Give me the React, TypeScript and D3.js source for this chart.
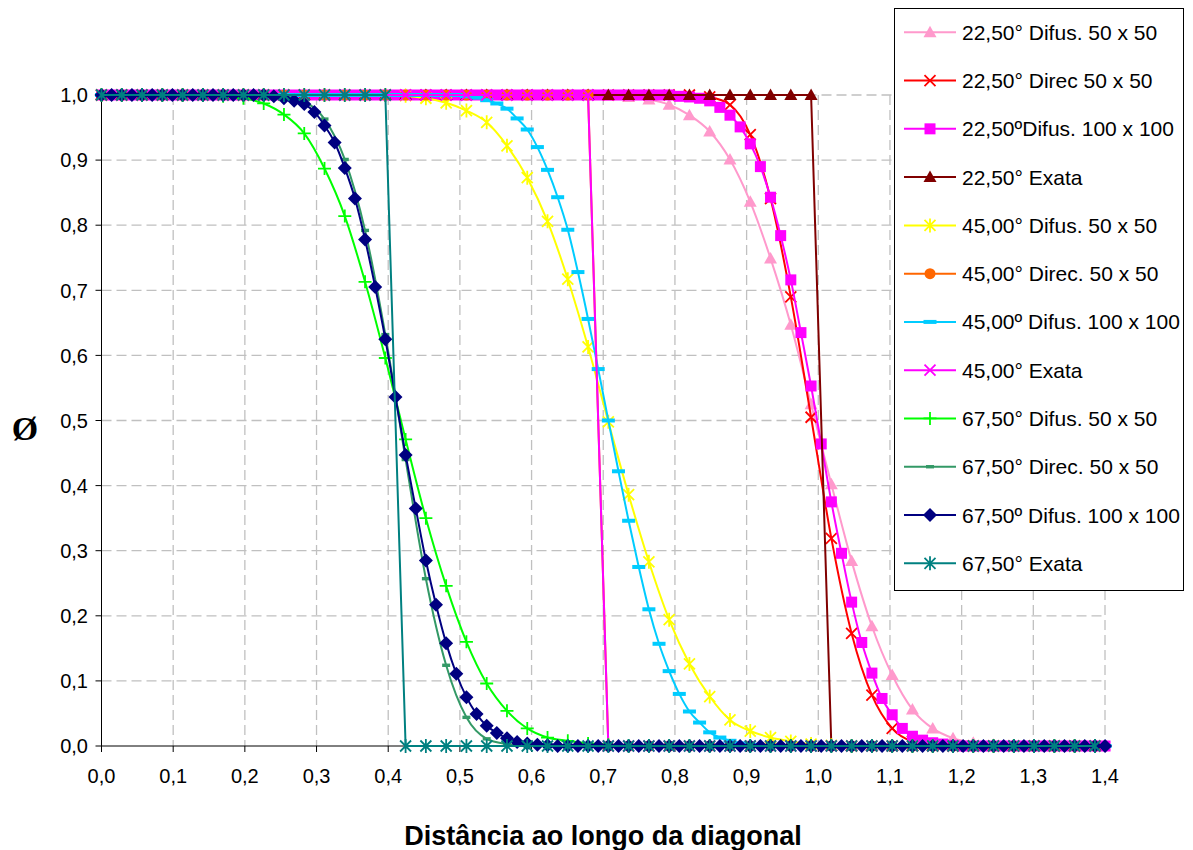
import React from 'react';
import * as d3 from 'd3';

// ---------- data ----------
const X_TICKS = [0, 0.1, 0.2, 0.3, 0.4, 0.5, 0.6, 0.7, 0.8, 0.9, 1.0, 1.1, 1.2, 1.3, 1.4];
const Y_TICKS = [0, 0.1, 0.2, 0.3, 0.4, 0.5, 0.6, 0.7, 0.8, 0.9, 1.0];
const X_TITLE = 'Distância ao longo da diagonal';
const Y_TITLE = 'Ø';

// grid spacing along the diagonal of the unit square
const STEP_50 = Math.SQRT2 / 50;
const STEP_100 = Math.SQRT2 / 100;

const LABELS = [
  '22,50° Difus. 50 x 50',
  '22,50° Direc 50 x 50',
  '22,50ºDifus. 100 x 100',
  '22,50° Exata',
  '45,00° Difus. 50 x 50',
  '45,00° Direc. 50 x 50',
  '45,00º Difus. 100 x 100',
  '45,00° Exata',
  '67,50° Difus. 50 x 50',
  '67,50° Direc. 50 x 50',
  '67,50º Difus. 100 x 100',
  '67,50° Exata',
];

const D225_DIFUS_50 = [
  1, 1, 1, 1, 1, 1, 1, 1, 1, 1,
  1, 1, 1, 1, 1, 1, 1, 1, 1, 1,
  1, 1, 1, 1, 1, 0.999, 0.997, 0.993, 0.985, 0.969,
  0.944, 0.901, 0.836, 0.749, 0.647, 0.525, 0.402, 0.284, 0.184, 0.109,
  0.056, 0.027, 0.012, 0.005, 0.002, 0, 0, 0, 0, 0,
  0,
];
const D225_DIREC_50 = [
  1, 1, 1, 1, 1, 1, 1, 1, 1, 1,
  1, 1, 1, 1, 1, 1, 1, 1, 1, 1,
  1, 1, 1, 1, 1, 1, 1, 1, 1, 1,
  0.997, 0.985, 0.939, 0.841, 0.690, 0.505, 0.319, 0.173, 0.078, 0.027,
  0.007, 0.002, 0, 0, 0, 0, 0, 0, 0, 0,
  0,
];
const D225_DIFUS_100 = [
  1, 1, 1, 1, 1, 1, 1, 1, 1, 1,
  1, 1, 1, 1, 1, 1, 1, 1, 1, 1,
  1, 1, 1, 1, 1, 1, 1, 1, 1, 1,
  1, 1, 1, 1, 1, 1, 1, 1, 1, 1,
  1, 1, 1, 1, 1, 1, 1, 1, 1, 1,
  1, 1, 1, 1, 1, 1, 1, 0.998, 0.997, 0.995,
  0.991, 0.981, 0.969, 0.951, 0.925, 0.890, 0.843, 0.784, 0.716, 0.635,
  0.553, 0.464, 0.375, 0.296, 0.221, 0.159, 0.112, 0.073, 0.048, 0.027,
  0.015, 0.009, 0.005, 0.003, 0.001, 0, 0, 0, 0, 0,
  0, 0, 0, 0, 0, 0, 0, 0, 0, 0,
  0,
];
const D225_EXATA = [
  1, 1, 1, 1, 1, 1, 1, 1, 1, 1,
  1, 1, 1, 1, 1, 1, 1, 1, 1, 1,
  1, 1, 1, 1, 1, 1, 1, 1, 1, 1,
  1, 1, 1, 1, 1, 1, 0, 0, 0, 0,
  0, 0, 0, 0, 0, 0, 0, 0, 0, 0,
  0,
];
const D45_DIFUS_50 = [
  1, 1, 1, 1, 1, 1, 1, 1, 1, 1,
  1, 1, 1, 1, 1, 0.999, 0.995, 0.988, 0.976, 0.958,
  0.922, 0.873, 0.806, 0.717, 0.613, 0.498, 0.386, 0.283, 0.194, 0.126,
  0.076, 0.040, 0.023, 0.013, 0.007, 0.003, 0.001, 0, 0, 0,
  0, 0, 0, 0, 0, 0, 0, 0, 0, 0,
  0,
];
const D45_DIREC_50 = [
  1, 1, 1, 1, 1, 1, 1, 1, 1, 1,
  1, 1, 1, 1, 1, 1, 1, 1, 1, 1,
  1, 1, 1, 1, 1, 0, 0, 0, 0, 0,
  0, 0, 0, 0, 0, 0, 0, 0, 0, 0,
  0, 0, 0, 0, 0, 0, 0, 0, 0, 0,
  0,
];
const D45_DIFUS_100 = [
  1, 1, 1, 1, 1, 1, 1, 1, 1, 1,
  1, 1, 1, 1, 1, 1, 1, 1, 1, 1,
  1, 1, 1, 1, 1, 1, 1, 1, 1, 1,
  1, 1, 1, 1, 1, 1, 0.998, 0.996, 0.992, 0.987,
  0.979, 0.964, 0.947, 0.920, 0.885, 0.843, 0.793, 0.728, 0.656, 0.579,
  0.500, 0.422, 0.346, 0.275, 0.210, 0.157, 0.115, 0.080, 0.053, 0.036,
  0.021, 0.013, 0.008, 0.004, 0.002, 0, 0, 0, 0, 0,
  0, 0, 0, 0, 0, 0, 0, 0, 0, 0,
  0, 0, 0, 0, 0, 0, 0, 0, 0, 0,
  0, 0, 0, 0, 0, 0, 0, 0, 0, 0,
  0,
];
const D45_EXATA = [
  1, 1, 1, 1, 1, 1, 1, 1, 1, 1,
  1, 1, 1, 1, 1, 1, 1, 1, 1, 1,
  1, 1, 1, 1, 1, 0, 0, 0, 0, 0,
  0, 0, 0, 0, 0, 0, 0, 0, 0, 0,
  0, 0, 0, 0, 0, 0, 0, 0, 0, 0,
  0,
];
const D675_DIFUS_50 = [
  1, 1, 1, 1, 1, 1, 0.998, 0.995, 0.987, 0.970,
  0.941, 0.887, 0.814, 0.713, 0.596, 0.471, 0.350, 0.246, 0.160, 0.096,
  0.054, 0.027, 0.013, 0.008, 0.004, 0.002, 0, 0, 0, 0,
  0, 0, 0, 0, 0, 0, 0, 0, 0, 0,
  0, 0, 0, 0, 0, 0, 0, 0, 0, 0,
  0,
];
const D675_DIREC_50 = [
  1, 1, 1, 1, 1, 1, 1, 1, 1, 0.998,
  0.990, 0.963, 0.901, 0.792, 0.632, 0.440, 0.257, 0.124, 0.044, 0.011,
  0.003, 0, 0, 0, 0, 0, 0, 0, 0, 0,
  0, 0, 0, 0, 0, 0, 0, 0, 0, 0,
  0, 0, 0, 0, 0, 0, 0, 0, 0, 0,
  0,
];
const D675_DIFUS_100 = [
  1, 1, 1, 1, 1, 1, 1, 1, 1, 1,
  1, 1, 1, 1, 1, 1, 1, 0.998, 0.995, 0.991,
  0.986, 0.974, 0.953, 0.927, 0.888, 0.841, 0.778, 0.705, 0.625, 0.536,
  0.447, 0.365, 0.285, 0.217, 0.158, 0.111, 0.075, 0.049, 0.031, 0.020,
  0.012, 0.006, 0.004, 0.002, 0.001, 0, 0, 0, 0, 0,
  0, 0, 0, 0, 0, 0, 0, 0, 0, 0,
  0, 0, 0, 0, 0, 0, 0, 0, 0, 0,
  0, 0, 0, 0, 0, 0, 0, 0, 0, 0,
  0, 0, 0, 0, 0, 0, 0, 0, 0, 0,
  0, 0, 0, 0, 0, 0, 0, 0, 0, 0,
  0,
];
const D675_EXATA = [
  1, 1, 1, 1, 1, 1, 1, 1, 1, 1,
  1, 1, 1, 1, 1, 0, 0, 0, 0, 0,
  0, 0, 0, 0, 0, 0, 0, 0, 0, 0,
  0, 0, 0, 0, 0, 0, 0, 0, 0, 0,
  0, 0, 0, 0, 0, 0, 0, 0, 0, 0,
  0,
];

type MarkerType = 'triangle' | 'x' | 'square' | 'star' | 'circle' | 'dash' | 'smalldash' | 'plus' | 'diamond';

interface Series {
  name: string;
  values: number[];
  step: number;
  color: string;
  marker: MarkerType;
  smooth: boolean;
}

const SERIES: Series[] = [
  { name: LABELS[0], values: D225_DIFUS_50, step: STEP_50, color: '#FF99CC', marker: 'triangle', smooth: true },
  { name: LABELS[1], values: D225_DIREC_50, step: STEP_50, color: '#FF0000', marker: 'x', smooth: true },
  { name: LABELS[2], values: D225_DIFUS_100, step: STEP_100, color: '#FF00FF', marker: 'square', smooth: true },
  { name: LABELS[3], values: D225_EXATA, step: STEP_50, color: '#800000', marker: 'triangle', smooth: false },
  { name: LABELS[4], values: D45_DIFUS_50, step: STEP_50, color: '#FFFF00', marker: 'star', smooth: true },
  { name: LABELS[5], values: D45_DIREC_50, step: STEP_50, color: '#FF6600', marker: 'circle', smooth: false },
  { name: LABELS[6], values: D45_DIFUS_100, step: STEP_100, color: '#00CCFF', marker: 'dash', smooth: true },
  { name: LABELS[7], values: D45_EXATA, step: STEP_50, color: '#FF00FF', marker: 'x', smooth: false },
  { name: LABELS[8], values: D675_DIFUS_50, step: STEP_50, color: '#00FF00', marker: 'plus', smooth: true },
  { name: LABELS[9], values: D675_DIREC_50, step: STEP_50, color: '#339966', marker: 'smalldash', smooth: true },
  { name: LABELS[10], values: D675_DIFUS_100, step: STEP_100, color: '#000080', marker: 'diamond', smooth: true },
  { name: LABELS[11], values: D675_EXATA, step: STEP_50, color: '#008080', marker: 'star', smooth: false },
];

// ---------- layout ----------
const W = 1193;
const H = 850;
const PLOT_L = 101.5;
const PLOT_R = 1105;
const PLOT_T = 95;
const PLOT_B = 746;
const SANS = '"Liberation Sans", Arial, sans-serif';

const xScale = d3.scaleLinear().domain([0, 1.4]).range([PLOT_L, PLOT_R]);
const yScale = d3.scaleLinear().domain([0, 1]).range([PLOT_B, PLOT_T]);
const fmt = (v: number) => d3.format('.1f')(v).replace('.', ',');

function Marker({ type, color, x, y }: { type: MarkerType; color: string; x: number; y: number }) {
  const t = `translate(${x},${y})`;
  switch (type) {
    case 'triangle':
      return <path transform={t} d="M0,-6.5L6.5,5L-6.5,5Z" fill={color} />;
    case 'x':
      return <path transform={t} d="M-5.5,-5.5L5.5,5.5M-5.5,5.5L5.5,-5.5" stroke={color} strokeWidth={1.8} fill="none" />;
    case 'square':
      return <rect transform={t} x={-5.5} y={-5.5} width={11} height={11} fill={color} />;
    case 'star':
      return <path transform={t} d="M-5.5,-5.5L5.5,5.5M-5.5,5.5L5.5,-5.5M0,-7L0,7" stroke={color} strokeWidth={1.8} fill="none" />;
    case 'circle':
      return <circle cx={x} cy={y} r={5.5} fill={color} />;
    case 'dash':
      return <rect transform={t} x={-6.5} y={-2} width={13} height={4} fill={color} />;
    case 'smalldash':
      return <rect transform={t} x={-4} y={-1.7} width={8} height={3.4} fill={color} />;
    case 'plus':
      return <path transform={t} d="M-6.5,0L6.5,0M0,-6.5L0,6.5" stroke={color} strokeWidth={1.8} fill="none" />;
    case 'diamond':
      return <path transform={t} d="M0,-7L7,0L0,7L-7,0Z" fill={color} />;
    default:
      return null;
  }
}

export default function App() {
  const xGrid = X_TICKS.filter((v) => v > 0);
  const yGrid = Y_TICKS.filter((v) => v > 0);

  const lineSmooth = d3
    .line<[number, number]>()
    .x((d) => xScale(d[0]))
    .y((d) => yScale(d[1]))
    .curve(d3.curveMonotoneX);
  const lineStraight = d3
    .line<[number, number]>()
    .x((d) => xScale(d[0]))
    .y((d) => yScale(d[1]));

  const seriesPts = SERIES.map((s) =>
    s.values
      .map((v, i) => [i * s.step, v] as [number, number])
      .filter((p) => p[0] <= 1.4 + 0.001)
  );

  const LEG_X = 894.5;
  const LEG_Y = 8.5;
  const LEG_W = 289;
  const LEG_H = 582;
  const ROW0 = 32.3;
  const ROW_STEP = 48.27;

  return (
    <svg
      width={W}
      height={H}
      style={{ position: 'absolute', left: 0, top: 0, background: '#fff' }}
      xmlns="http://www.w3.org/2000/svg"
    >
      <rect x={0} y={0} width={W} height={H} fill="#fff" />

      {/* gridlines */}
      <g stroke="#c0c0c0" strokeWidth={1.3} strokeDasharray="10,5">
        {xGrid.map((v) => (
          <line key={'gx' + v} x1={xScale(v)} x2={xScale(v)} y1={PLOT_T} y2={PLOT_B} />
        ))}
        {yGrid.map((v) => (
          <line key={'gy' + v} x1={PLOT_L} x2={PLOT_R} y1={yScale(v)} y2={yScale(v)} />
        ))}
      </g>

      {/* axes */}
      <g stroke="#000" strokeWidth={1}>
        <line x1={PLOT_L} x2={PLOT_L} y1={PLOT_T} y2={PLOT_B} />
        <line x1={PLOT_L} x2={PLOT_R} y1={PLOT_B} y2={PLOT_B} />
        {Y_TICKS.map((v) => (
          <line key={'ty' + v} x1={PLOT_L - 6} x2={PLOT_L} y1={yScale(v)} y2={yScale(v)} />
        ))}
        {X_TICKS.map((v) => (
          <line key={'tx' + v} x1={xScale(v)} x2={xScale(v)} y1={PLOT_B} y2={PLOT_B + 6} />
        ))}
      </g>

      {/* tick labels */}
      <g fontFamily={SANS} fontSize={20} fill="#000">
        {Y_TICKS.map((v) => (
          <text key={'ly' + v} x={88} y={yScale(v)} dy="0.36em" textAnchor="end">
            {fmt(v)}
          </text>
        ))}
        {X_TICKS.map((v) => (
          <text key={'lx' + v} x={xScale(v)} y={783} textAnchor="middle">
            {fmt(v)}
          </text>
        ))}
      </g>

      {/* series */}
      {SERIES.map((s, si) => (
        <g key={'s' + si}>
          <path
            d={(s.smooth ? lineSmooth : lineStraight)(seriesPts[si]) || ''}
            fill="none"
            stroke={s.color}
            strokeWidth={2}
          />
          {seriesPts[si].map((p, pi) => (
            <Marker key={pi} type={s.marker} color={s.color} x={xScale(p[0])} y={yScale(p[1])} />
          ))}
        </g>
      ))}

      {/* legend */}
      <rect x={LEG_X} y={LEG_Y} width={LEG_W} height={LEG_H} fill="#fff" stroke="#000" strokeWidth={1} />
      {SERIES.map((s, i) => {
        const ry = ROW0 + i * ROW_STEP;
        return (
          <g key={'lg' + i}>
            <line x1={904} x2={956} y1={ry} y2={ry} stroke={s.color} strokeWidth={2} />
            <Marker type={s.marker} color={s.color} x={930} y={ry} />
            <text x={962} y={ry} dy="0.36em" fontFamily={SANS} fontSize={21} fill="#000">
              {s.name}
            </text>
          </g>
        );
      })}

      {/* axis titles */}
      <text x={603} y={845} textAnchor="middle" fontFamily={SANS} fontWeight="bold" fontSize={27} fill="#000">
        {X_TITLE}
      </text>
      <text
        x={25}
        y={428}
        dy="0.35em"
        textAnchor="middle"
        fontFamily='"Liberation Serif", "Times New Roman", serif'
        fontWeight="bold"
        fontSize={34}
        fill="#000"
      >
        {Y_TITLE}
      </text>
    </svg>
  );
}
